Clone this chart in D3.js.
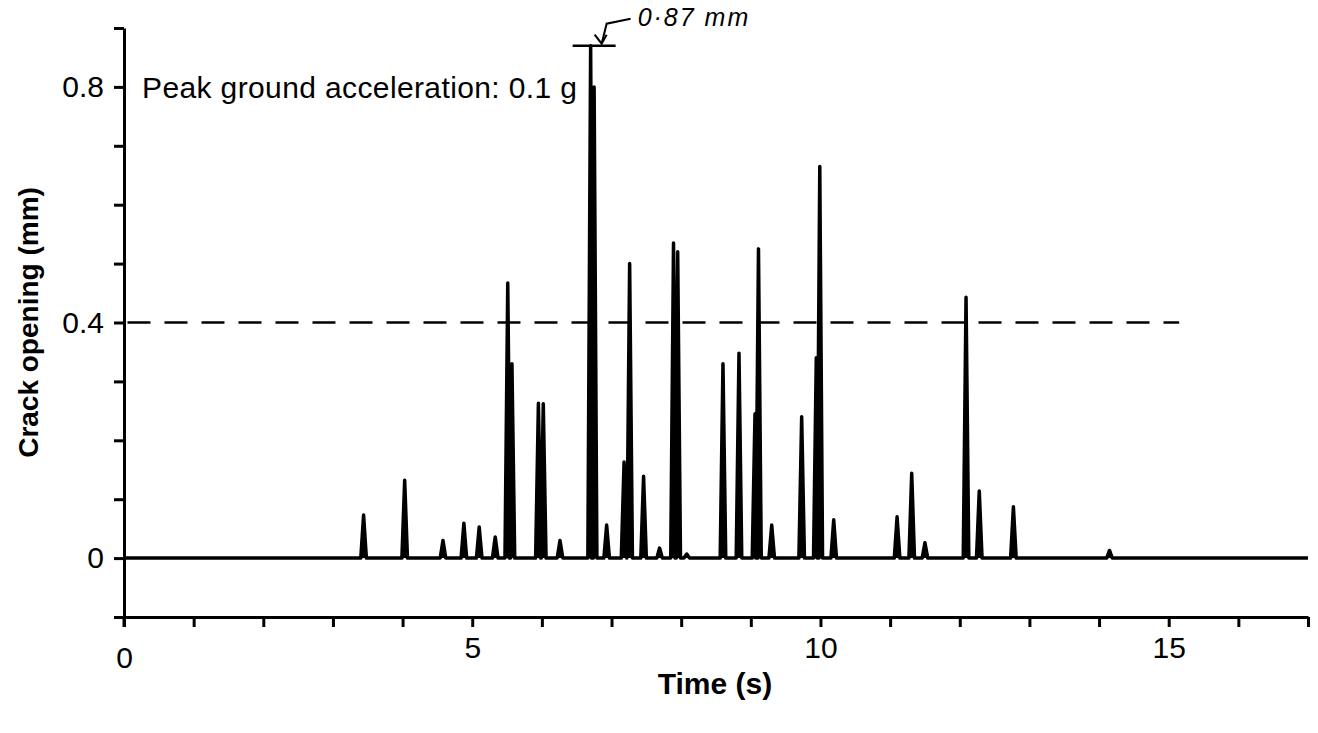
<!DOCTYPE html>
<html>
<head>
<meta charset="utf-8">
<script src="https://cdn.jsdelivr.net/npm/d3@7"></script>
<style>
  body { margin: 0; background: #fff; }
  text { font-family: "Liberation Sans", Arial, Helvetica, sans-serif; fill: #000; }
</style>
</head>
<body>
<div id="chart"></div>
<script>
// spike times (s) and peak crack openings (mm)
const spikeTimes = [3.44, 4.03, 4.58, 4.88, 5.10, 5.33, 5.51, 5.57, 5.95, 6.02, 6.26,
  6.70, 6.75, 6.93, 7.18, 7.26, 7.46, 7.69, 7.89, 7.95, 8.08, 8.60, 8.83, 9.06, 9.11,
  9.30, 9.73, 9.94, 9.99, 10.19, 11.10, 11.31, 11.50, 12.09, 12.28, 12.77, 14.15];
const spikePeaks = [0.073, 0.132, 0.03, 0.059, 0.053, 0.036, 0.467, 0.33, 0.263, 0.262, 0.03,
  0.87, 0.80, 0.056, 0.163, 0.50, 0.139, 0.017, 0.535, 0.52, 0.007, 0.33, 0.348, 0.245, 0.525,
  0.056, 0.24, 0.34, 0.665, 0.065, 0.07, 0.144, 0.026, 0.443, 0.114, 0.087, 0.013];

const xTicks = d3.range(0, 18);
const xTickLabels = [0, 5, 10, 15];
const yTicks = d3.range(-1, 10).map(d => d / 10);
const yTickLabels = [0, 0.4, 0.8];
const limitValue = 0.4;   // dashed limit line
const limitEnd = 15.15;
const peakValue = 0.87;
const peakTime = 6.70;

const W = 1318, H = 733;
const svg = d3.select("#chart").append("svg")
  .attr("width", W).attr("height", H);

const x = d3.scaleLinear().domain([0, 17]).range([124, 1308]);
const y = d3.scaleLinear().domain([-0.1, 0.9]).range([617, 28]);

// x axis (at -0.1)
const xAxis = svg.append("g")
  .attr("transform", `translate(0,${y(-0.1)})`)
  .call(d3.axisBottom(x).tickValues(xTicks).tickSize(10).tickSizeOuter(0)
    .tickFormat(d => xTickLabels.includes(d) ? d : ""));
xAxis.select(".domain").attr("stroke-width", 3);
xAxis.selectAll(".tick line").attr("stroke-width", 3);
xAxis.selectAll(".tick text")
  .attr("font-size", 30).attr("y", 20).attr("dy", "0.71em")
  .attr("font-family", "Liberation Sans, Arial, sans-serif")
  .filter(d => d === 0).attr("y", 30);

// y axis
const yAxis = svg.append("g")
  .attr("transform", `translate(${x(0)},0)`)
  .call(d3.axisLeft(y).tickValues(yTicks).tickSize(10).tickSizeOuter(0)
    .tickFormat(d => yTickLabels.some(v => Math.abs(v - d) < 1e-9) ? d : ""));
yAxis.select(".domain").attr("stroke-width", 3);
yAxis.selectAll(".tick line").attr("stroke-width", 3);
yAxis.selectAll(".tick text")
  .attr("font-size", 30).attr("x", -20)
  .attr("font-family", "Liberation Sans, Arial, sans-serif");

// extend y axis down past the x axis to meet the 0 tick
svg.append("line")
  .attr("x1", x(0)).attr("x2", x(0))
  .attr("y1", y(-0.1)).attr("y2", y(-0.1) + 10)
  .attr("stroke", "#000").attr("stroke-width", 3);

// dashed 0.4 mm line
svg.append("line")
  .attr("x1", x(0.05)).attr("x2", x(limitEnd))
  .attr("y1", y(limitValue)).attr("y2", y(limitValue))
  .attr("stroke", "#000").attr("stroke-width", 2.5)
  .attr("stroke-dasharray", "23,14");

// crack opening trace: zero baseline with narrow spikes
const hw = 0.04;
const pts = [[0, 0]];
spikeTimes.forEach((t, i) => {
  pts.push([t - hw, 0], [t, spikePeaks[i]], [t + hw, 0]);
});
pts.push([17, 0]);

// filled so the spikes read as solid bars like the scanned record
svg.append("path")
  .datum(pts)
  .attr("fill", "#000")
  .attr("d", d3.area().x(d => x(d[0])).y0(y(0)).y1(d => y(d[1])));

svg.append("path")
  .datum(pts)
  .attr("fill", "none")
  .attr("stroke", "#000")
  .attr("stroke-width", 3.5)
  .attr("stroke-linejoin", "round")
  .attr("d", d3.line().x(d => x(d[0])).y(d => y(d[1])));

// peak marker and hand annotation
const px = x(peakTime), py = y(peakValue);
svg.append("line")
  .attr("x1", px - 18).attr("x2", px + 25)
  .attr("y1", py).attr("y2", py)
  .attr("stroke", "#000").attr("stroke-width", 2.5);

svg.append("path")
  .attr("d", `M${px + 40},${py - 27} L${px + 16},${py - 22} L${px + 11},${py - 2}`)
  .attr("fill", "none").attr("stroke", "#000").attr("stroke-width", 2);
svg.append("path")
  .attr("d", `M${px + 4},${py - 11} L${px + 11},${py - 2} L${px + 16},${py - 11}`)
  .attr("fill", "none").attr("stroke", "#000").attr("stroke-width", 2);

svg.append("text")
  .attr("x", px + 47).attr("y", py - 20)
  .attr("font-size", 25).attr("font-style", "italic")
  .attr("font-family", "DejaVu Sans, sans-serif")
  .attr("letter-spacing", 2)
  .text("0·87 mm");

// note
svg.append("text")
  .attr("x", 142).attr("y", y(0.8) + 11)
  .attr("font-size", 30)
  .attr("textLength", 435)
  .text("Peak ground acceleration: 0.1 g");

// axis titles
svg.append("text")
  .attr("x", 715).attr("y", 694)
  .attr("text-anchor", "middle")
  .attr("font-size", 30).attr("font-weight", "bold")
  .text("Time (s)");

svg.append("text")
  .attr("transform", `translate(38,${y(0.4)}) rotate(-90)`)
  .attr("text-anchor", "middle")
  .attr("font-size", 28).attr("font-weight", "bold")
  .text("Crack opening (mm)");
</script>
</body>
</html>
